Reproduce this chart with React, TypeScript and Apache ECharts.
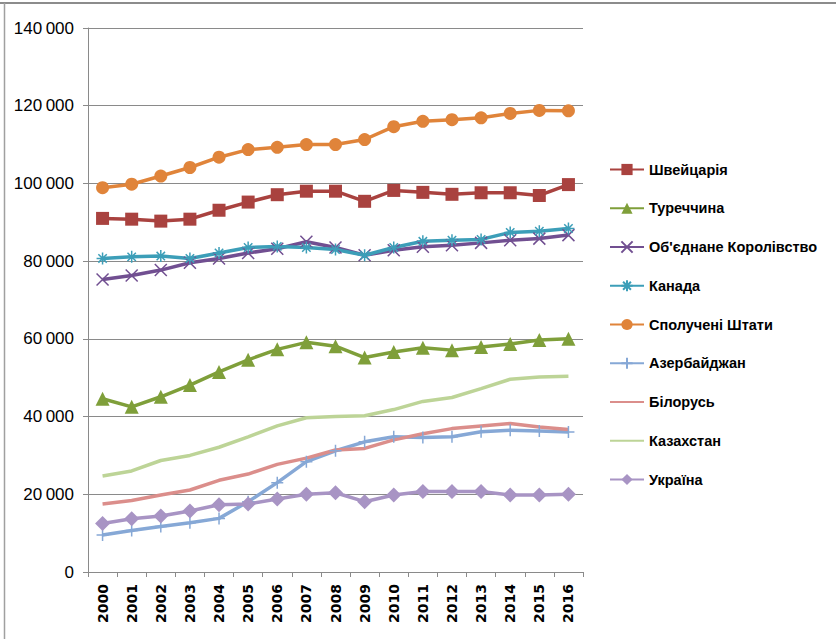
import React, { useEffect, useRef } from "react";
import * as echarts from "echarts";

const years = ["2000","2001","2002","2003","2004","2005","2006","2007","2008","2009","2010","2011","2012","2013","2014","2015","2016"];

const switzerland = [91000, 90800, 90300, 90800, 93100, 95200, 97100, 98000, 98000, 95400, 98200, 97700, 97200, 97600, 97600, 96900, 99700];
const turkey = [44600, 42500, 45100, 48100, 51500, 54600, 57300, 59100, 58100, 55200, 56600, 57700, 57100, 57900, 58700, 59700, 60000];
const uk = [75300, 76300, 77700, 79600, 80700, 82100, 83200, 85000, 83500, 81500, 82800, 83700, 84100, 84700, 85400, 85800, 86700];
const canada = [80700, 81100, 81300, 80700, 82100, 83500, 83800, 83500, 83000, 81500, 83500, 85100, 85400, 85600, 87400, 87700, 88400];
const usa = [98900, 99800, 101900, 104100, 106750, 108700, 109300, 110000, 110000, 111300, 114600, 116000, 116400, 116900, 118000, 118800, 118700];
const azerbaijan = [9500, 10700, 11700, 12700, 13800, 18100, 23000, 28400, 31200, 33500, 34800, 34600, 34800, 36100, 36500, 36300, 36000];
const belarus = [17500, 18400, 19800, 21100, 23600, 25200, 27700, 29300, 31400, 31800, 34000, 35600, 36900, 37600, 38200, 37300, 36700];
const kazakhstan = [24700, 26000, 28700, 30000, 32100, 34800, 37600, 39700, 40000, 40200, 41800, 43900, 44900, 47200, 49600, 50200, 50400];
const ukraine = [12500, 13700, 14400, 15700, 17300, 17500, 18800, 20000, 20400, 18100, 19800, 20700, 20700, 20700, 19800, 19800, 20000];

const legendNames = [
  "Швейцарія",
  "Туреччина",
  "Об'єднане Королівство",
  "Канада",
  "Сполучені Штати",
  "Азербайджан",
  "Білорусь",
  "Казахстан",
  "Україна",
];

const X_PATH = "path://M0,0L10,10M10,0L0,10";
const STAR_PATH = "path://M0,5L10,5M5,0L5,10M1.5,1.5L8.5,8.5M8.5,1.5L1.5,8.5";
const PLUS_PATH = "path://M5,0L5,10M0,5L10,5";

export default function App() {
  const ref = useRef<HTMLDivElement>(null);
  useEffect(() => {
    if (!ref.current) return;
    const chart = echarts.init(ref.current, null, { renderer: "svg" });
    const mk = (name: string, data: number[], color: string, symbol: string, size: number, opts: any = {}) => ({
      name,
      type: "line",
      data,
      symbol,
      symbolSize: size,
      showSymbol: symbol !== "none",
      lineStyle: { color, width: opts.width ?? 3.5 },
      itemStyle: opts.stroke
        ? { color: "rgba(0,0,0,0)", borderColor: color, borderWidth: opts.bw ?? 1.5 }
        : { color },
      color,
      z: opts.z ?? 2,
    });
    chart.setOption({
      animation: false,
      backgroundColor: "#ffffff",
      grid: { left: 88, top: 28, right: 253, bottom: 67, containLabel: false },
      xAxis: {
        type: "category",
        data: years,
        boundaryGap: true,
        axisLine: { show: true, lineStyle: { color: "#8a8a8a", width: 1 } },
        axisTick: { show: true, alignWithLabel: false, length: 5, lineStyle: { color: "#8a8a8a" } },
        axisLabel: {
          rotate: 90,
          interval: 0,
          margin: 12,
          color: "#000",
          fontFamily: "DejaVu Sans",
          fontWeight: "bold",
          fontSize: 14,
        },
        splitLine: { show: false },
      },
      yAxis: {
        type: "value",
        min: 0,
        max: 140000,
        interval: 20000,
        axisLine: { show: true, lineStyle: { color: "#8a8a8a", width: 1 } },
        axisTick: { show: true, length: 5, lineStyle: { color: "#8a8a8a" } },
        axisLabel: {
          color: "#000",
          fontFamily: "'Liberation Sans', sans-serif",
          fontSize: 17,
          margin: 14,
          formatter: (v: number) => {
            const s = String(v);
            return s.length > 3 ? s.slice(0, s.length - 3) + "\u2009" + s.slice(-3) : s;
          },
        },
        splitLine: { show: true, lineStyle: { color: "#8a8a8a", width: 1 } },
      },
      legend: {
        orient: "vertical",
        left: 604,
        top: 157,
        itemWidth: 34,
        itemHeight: 14,
        itemGap: 23.75,
        textStyle: {
          color: "#000",
          fontFamily: "'Liberation Sans', sans-serif",
          fontWeight: "bold",
          fontSize: 14.5,
        },
        data: legendNames.map((n, i) =>
          i === 6 || i === 7 ? { name: n, itemStyle: { opacity: 0 } } : { name: n }
        ),
      },
      series: [
        mk(legendNames[0], switzerland, "#A9423F", "rect", 13),
        mk(legendNames[1], turkey, "#7F9F3A", "triangle", 14),
        mk(legendNames[2], uk, "#714F91", X_PATH, 12, { stroke: true, bw: 1.5 }),
        mk(legendNames[3], canada, "#3C9EB8", STAR_PATH, 12, { stroke: true, bw: 1.5 }),
        mk(legendNames[4], usa, "#E0843A", "circle", 13),
        mk(legendNames[5], azerbaijan, "#86A8D6", PLUS_PATH, 12, { stroke: true, bw: 1.5 }),
        mk(legendNames[6], belarus, "#DB8E8B", "none", 0),
        mk(legendNames[7], kazakhstan, "#BDD497", "none", 0),
        mk(legendNames[8], ukraine, "#A894C4", "diamond", 15),
      ],
      graphic: [
        { type: "line", shape: { x1: 0, y1: 3, x2: 836, y2: 3 }, style: { stroke: "#8c8c8c", lineWidth: 2 } },
        { type: "line", shape: { x1: 4.5, y1: 3, x2: 4.5, y2: 639 }, style: { stroke: "#a0a0a0", lineWidth: 1.5 } },
      ],
    });
    return () => chart.dispose();
  }, []);
  return <div ref={ref} style={{ position: "fixed", left: 0, top: 0, width: 836, height: 639 }} />;
}
